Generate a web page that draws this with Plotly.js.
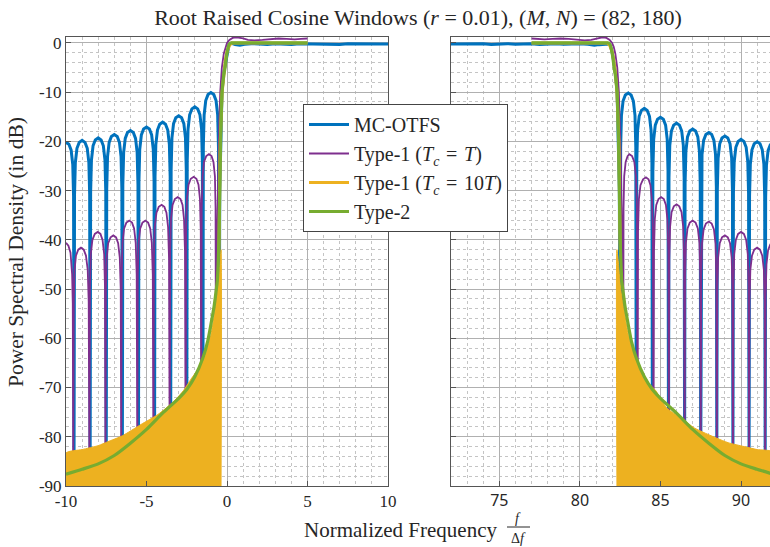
<!DOCTYPE html>
<html>
<head>
<meta charset="utf-8">
<script src="https://cdn.plot.ly/plotly-3.0.1.min.js"></script>
<style>html,body{margin:0;padding:0;background:#fff;}#chart{width:770px;height:547px;}</style>
</head>
<body>
<div id="chart"></div>
<script>
// ---------- tick labels ----------
const yTickVals = [-90,-80,-70,-60,-50,-40,-30,-20,-10,0];
const yTickText = ["-90","-80","-70","-60","-50","-40","-30","-20","-10","0"];
const xTickValsL = [-10,-5,0,5,10];
const xTickTextL = ["-10","-5","0","5","10"];
const xTickValsR = [75,80,85,90];
const xTickTextR = ["75","80","85","90"];

// ---------- MC-OTFS (blue) ----------
const mcLeftX = [
 -10,-9.82,-9.68,-9.58,-9.53,-9.5,
 -9.47,-9.42,-9.32,-9.18,-9,-8.82,-8.68,-8.58,-8.53,-8.5,
 -8.47,-8.42,-8.32,-8.18,-8,-7.82,-7.68,-7.58,-7.53,-7.5,
 -7.47,-7.42,-7.32,-7.18,-7,-6.82,-6.68,-6.58,-6.53,-6.5,
 -6.47,-6.42,-6.32,-6.18,-6,-5.82,-5.68,-5.58,-5.53,-5.5,
 -5.47,-5.42,-5.32,-5.18,-5,-4.82,-4.68,-4.58,-4.53,-4.5,
 -4.47,-4.42,-4.32,-4.18,-4,-3.82,-3.68,-3.58,-3.53,-3.5,
 -3.47,-3.42,-3.32,-3.18,-3,-2.82,-2.68,-2.58,-2.53,-2.5,
 -2.47,-2.42,-2.32,-2.18,-2,-1.82,-1.68,-1.58,-1.53,-1.5,
 -1.47,-1.42,-1.32,-1.18,-1,-0.82,-0.68,-0.58,-0.53,-0.5,
 -0.45,-0.4,-0.31,-0.2,-0.12,-0.05,0.05,0.12,0.2,0.3,0.5,0.8,1.1,1.5,2,2.5,3,3.5,4,4.5,5,5.5,6,6.5,7,7.5,8,8.5,9,9.5,10];
const mcLeftY = [
 -20.2,-20.6,-21.8,-24.7,-31.2,-85,
 -30.8,-24.3,-21.4,-20.2,-19.8,-20.2,-21.4,-24.3,-30.8,-85,
 -30.3,-23.8,-20.9,-19.7,-19.3,-19.7,-20.9,-23.8,-30.3,-85,
 -29.6,-23.1,-20.2,-19.0,-18.6,-19.0,-20.2,-23.1,-29.6,-85,
 -28.8,-22.3,-19.4,-18.2,-17.8,-18.2,-19.4,-22.3,-28.8,-85,
 -28.1,-21.6,-18.7,-17.5,-17.1,-17.5,-18.7,-21.6,-28.1,-85,
 -27.1,-20.6,-17.7,-16.5,-16.1,-16.5,-17.7,-20.6,-27.1,-85,
 -25.8,-19.3,-16.4,-15.2,-14.8,-15.2,-16.4,-19.3,-25.8,-85,
 -24.0,-17.5,-14.6,-13.4,-13.0,-13.4,-14.6,-17.5,-24.0,-85,
 -21.1,-14.6,-11.7,-10.5,-10.1,-10.5,-11.7,-14.6,-21.1,-85,
 -30,-20,-10,-6,-4.5,-2.8,-1.2,-0.5,-0.2,-0.1,-0.35,-0.45,-0.3,-0.15,-0.2,-0.3,-0.15,-0.2,-0.3,-0.15,-0.2,-0.25,-0.15,-0.2,-0.3,-0.15,-0.2,-0.25,-0.15,-0.2,-0.2];
const mcRightX = [
 72,72.5,73,73.5,74,74.5,75,75.5,76,76.5,77,77.5,78,78.5,79,79.5,80,80.5,80.9,81.2,81.5,81.7,81.8,81.88,81.95,82.05,82.12,82.2,82.31,82.4,82.45,82.5,
 82.53,82.58,82.68,82.82,83,83.18,83.32,83.42,83.47,83.5,
 83.53,83.58,83.68,83.82,84,84.18,84.32,84.42,84.47,84.5,
 84.53,84.58,84.68,84.82,85,85.18,85.32,85.42,85.47,85.5,
 85.53,85.58,85.68,85.82,86,86.18,86.32,86.42,86.47,86.5,
 86.53,86.58,86.68,86.82,87,87.18,87.32,87.42,87.47,87.5,
 87.53,87.58,87.68,87.82,88,88.18,88.32,88.42,88.47,88.5,
 88.53,88.58,88.68,88.82,89,89.18,89.32,89.42,89.47,89.5,
 89.53,89.58,89.68,89.82,90,90.18,90.32,90.42,90.47,90.5,
 90.53,90.58,90.68,90.82,91,91.18,91.32,91.42,91.47,91.5,
 91.53,91.58,91.68,91.82,92];
const mcRightY = [
 -0.2,-0.15,-0.25,-0.2,-0.15,-0.3,-0.2,-0.15,-0.25,-0.2,-0.15,-0.3,-0.2,-0.15,-0.25,-0.2,-0.15,-0.3,-0.45,-0.35,-0.2,-0.1,-0.2,-0.5,-1.2,-2.8,-4.5,-6,-10,-20,-30,-85,
 -21.2,-14.7,-11.8,-10.6,-10.2,-10.6,-11.8,-14.7,-21.2,-85,
 -24.3,-17.8,-14.9,-13.7,-13.3,-13.7,-14.9,-17.8,-24.3,-85,
 -26.1,-19.6,-16.7,-15.5,-15.1,-15.5,-16.7,-19.6,-26.1,-85,
 -27.3,-20.8,-17.9,-16.7,-16.3,-16.7,-17.9,-20.8,-27.3,-85,
 -28.5,-22.0,-19.1,-17.9,-17.5,-17.9,-19.1,-22.0,-28.5,-85,
 -29.2,-22.7,-19.8,-18.6,-18.2,-18.6,-19.8,-22.7,-29.2,-85,
 -29.9,-23.4,-20.5,-19.3,-18.9,-19.3,-20.5,-23.4,-29.9,-85,
 -30.6,-24.1,-21.2,-20.0,-19.6,-20.0,-21.2,-24.1,-30.6,-85,
 -31.1,-24.6,-21.7,-20.5,-20.1,-20.5,-21.7,-24.6,-31.1,-85,
 -31.3,-24.8,-21.9,-20.7,-20.3];

// ---------- Type-1 (Tc = T) (purple) ----------
const t1LeftX = [
 -10,-9.85,-9.72,-9.62,-9.58,-9.55,
 -9.52,-9.47,-9.38,-9.24,-9.07,-8.9,-8.76,-8.65,-8.59,-8.55,
 -8.51,-8.46,-8.36,-8.21,-8.03,-7.86,-7.73,-7.63,-7.58,-7.55,
 -7.52,-7.47,-7.38,-7.23,-7.06,-6.89,-6.76,-6.66,-6.6,-6.57,
 -6.54,-6.49,-6.39,-6.25,-6.07,-5.9,-5.77,-5.67,-5.61,-5.57,
 -5.54,-5.49,-5.39,-5.25,-5.07,-4.9,-4.77,-4.67,-4.61,-4.57,
 -4.54,-4.49,-4.38,-4.24,-4.06,-3.89,-3.76,-3.66,-3.6,-3.56,
 -3.53,-3.48,-3.38,-3.24,-3.06,-2.89,-2.76,-2.67,-2.61,-2.57,
 -2.54,-2.49,-2.39,-2.25,-2.07,-1.9,-1.77,-1.68,-1.63,-1.6,
 -1.57,-1.52,-1.43,-1.29,-1.12,-0.96,-0.84,-0.75,-0.71,-0.68,
 -0.62,-0.55,-0.48,-0.42,-0.32,-0.2,-0.1,0,0.15,0.35,0.6,0.8,1.0,1.3,1.7,2.2,2.7,3.2,3.7,4.2,4.6,5];
const t1LeftY = [
 -40.6,-41.2,-42.6,-47,-53,-85,
 -52.6,-46.1,-43.2,-42.0,-41.6,-42.0,-43.2,-46.1,-52.6,-85,
 -49.4,-42.9,-40.0,-38.8,-38.4,-38.8,-40.0,-42.9,-49.4,-85,
 -50.1,-43.6,-40.7,-39.5,-39.1,-39.5,-40.7,-43.6,-50.1,-85,
 -47.1,-40.6,-37.7,-36.5,-36.1,-36.5,-37.7,-40.6,-47.1,-85,
 -47.1,-40.6,-37.7,-36.5,-36.1,-36.5,-37.7,-40.6,-47.1,-85,
 -43.9,-37.4,-34.5,-33.3,-32.9,-33.3,-34.5,-37.4,-43.9,-85,
 -42.3,-35.8,-32.9,-31.7,-31.3,-31.7,-32.9,-35.8,-42.3,-85,
 -38.2,-31.7,-28.8,-27.6,-27.2,-27.6,-28.8,-31.7,-38.2,-85,
 -33.6,-27.1,-24.2,-23.0,-22.6,-23.0,-24.2,-27.1,-33.6,-85,
 -40,-25,-16,-10,-5,-2.2,-0.8,0,0.6,1.0,1.15,1.1,0.9,0.6,0.5,0.6,0.8,0.9,0.8,0.7,0.8,0.9];
const t1RightX = [
 77,77.4,77.8,78.3,78.8,79.3,79.8,80.3,80.7,81.0,81.2,81.4,81.65,81.85,82,82.1,82.2,82.32,82.42,82.48,82.55,82.62,82.68,
 82.71,82.75,82.84,82.96,83.07,83.24,83.38,83.48,83.54,83.58,
 83.61,83.66,83.76,83.92,84.1,84.26,84.38,84.47,84.53,84.57,
 84.6,84.65,84.74,84.88,85.04,85.21,85.34,85.43,85.49,85.52,
 85.55,85.6,85.69,85.83,86.0,86.17,86.31,86.41,86.47,86.5,
 86.53,86.58,86.68,86.82,87,87.18,87.32,87.42,87.47,87.5,
 87.53,87.58,87.68,87.82,88,88.18,88.32,88.42,88.47,88.5,
 88.53,88.58,88.68,88.82,89,89.18,89.32,89.42,89.47,89.5,
 89.53,89.58,89.68,89.82,90,90.18,90.32,90.42,90.47,90.5,
 90.53,90.58,90.68,90.82,91,91.18,91.32,91.42,91.47,91.5,
 91.53,91.58,91.68,91.82,92];
const t1RightY = [
 0.9,0.8,0.7,0.8,0.9,0.8,0.6,0.5,0.6,0.9,1.1,1.15,1.0,0.6,0,-0.8,-2.2,-5,-10,-16,-25,-40,-85,
 -33.6,-27.1,-24.2,-23.0,-22.6,-23.0,-24.2,-27.1,-33.6,-85,
 -38.3,-31.8,-28.9,-27.7,-27.3,-27.7,-28.9,-31.8,-38.3,-85,
 -42.3,-35.8,-32.9,-31.7,-31.3,-31.7,-32.9,-35.8,-42.3,-85,
 -43.8,-37.3,-34.4,-33.2,-32.8,-33.2,-34.4,-37.3,-43.8,-85,
 -47.1,-40.6,-37.7,-36.5,-36.1,-36.5,-37.7,-40.6,-47.1,-85,
 -47.3,-40.8,-37.9,-36.7,-36.3,-36.7,-37.9,-40.8,-47.3,-85,
 -50.1,-43.6,-40.7,-39.5,-39.1,-39.5,-40.7,-43.6,-50.1,-85,
 -49.4,-42.9,-40.0,-38.8,-38.4,-38.8,-40.0,-42.9,-49.4,-85,
 -52.6,-46.1,-43.2,-42.0,-41.6,-42.0,-43.2,-46.1,-52.6,-85,
 -51.5,-45.0,-42.1,-40.9,-40.5];

// ---------- Type-1 (Tc = 10T) (yellow): envelope of its dense lobes ----------
const t10LeftX = [-10,-9,-8,-7.4,-6.5,-5.34,-4.3,-3.3,-2.7,-2.24,-1.6,-1.3,-0.99,-0.8,-0.58,-0.45,-0.37];
const t10LeftY = [-83.3,-82.6,-81.8,-81,-79.8,-77.5,-75.5,-72.8,-70.6,-68.3,-65.3,-63,-59.1,-55.5,-50.3,-45,-42];
const t10RightX = [82.3,82.4,82.55,82.8,82.99,83.3,83.6,84.35,84.7,85.4,86.3,87.1,88.5,89.2,90.2,91,92];
const t10RightY = [-42,-45,-50.3,-55.5,-59.1,-62.6,-65.3,-69.4,-70.6,-74.2,-76.2,-78.2,-80.3,-81.2,-82,-82.6,-83.1];
const t10PassLX = [-0.5,-0.42,-0.3,-0.2,-0.1,0,0.15,0.3,5];
const t10PassLY = [-42,-20,-10,-6,-3.5,-1.8,-0.5,0,0];
const t10PassRX = [77,81.7,81.85,82,82.1,82.2,82.3,82.42,82.5];
const t10PassRY = [0,0,-0.5,-1.8,-3.5,-6,-10,-20,-42];
const floorDb = -90;

// ---------- Type-2 (green) ----------
const t2LeftX = [-10,-9,-8,-7,-6,-5,-4,-3,-2.5,-2,-1.5,-1.2,-1,-0.8,-0.7,-0.6,-0.55,-0.5,-0.45,-0.4,-0.31,-0.2,-0.12,-0.05,0.05,0.12,0.2,0.3,5];
const t2LeftY = [-87.6,-86.6,-85.5,-83.8,-81.3,-78.5,-75.2,-72.2,-70.4,-67.8,-64,-60.6,-57.2,-53.5,-51,-48.3,-45,-40,-30,-20,-10,-6.5,-5,-3,-1.2,-0.4,-0.05,0,0];
const t2RightX = [77,81.7,81.8,81.88,81.95,82.05,82.12,82.2,82.31,82.4,82.45,82.5,82.55,82.6,82.7,82.8,83,83.2,83.5,84,84.5,85,86,87,88,89,90,91,92];
const t2RightY = [0,0,-0.05,-0.4,-1.2,-3,-5,-6.5,-10,-20,-30,-40,-45,-48.3,-51,-53.5,-57.2,-60.6,-64,-67.8,-70.4,-72.2,-75.2,-78.5,-81.3,-83.8,-85.5,-86.6,-87.6];

// ---------- colours ----------
const cBlue = '#0072BD', cPurple = '#7E2F8E', cYellow = '#EDB120', cGreen = '#77AC30';

// close an envelope down to the axis floor so it can be filled
function closePoly(xs, ys) {
  return {x: [xs[0]].concat(xs, [xs[xs.length-1]]), y: [floorDb].concat(ys, [floorDb])};
}
const polyL = closePoly(t10LeftX, t10LeftY);
const polyR = closePoly(t10RightX, t10RightY);

const EQ = '\u2004=\u2004';
const traces = [
  {x: mcLeftX, y: mcLeftY, xaxis:'x', yaxis:'y', mode:'lines', name:'MC-OTFS', legendgroup:'a',
   line:{color:cBlue, width:3}},
  {x: mcRightX, y: mcRightY, xaxis:'x2', yaxis:'y2', mode:'lines', name:'MC-OTFS', legendgroup:'a', showlegend:false,
   line:{color:cBlue, width:3}},
  {x: t1LeftX, y: t1LeftY, xaxis:'x', yaxis:'y', mode:'lines', name:'Type-1 (<i>T</i><sub><i>c</i></sub>' + EQ + '<i>T</i>)', legendgroup:'b',
   line:{color:cPurple, width:1.8}},
  {x: t1RightX, y: t1RightY, xaxis:'x2', yaxis:'y2', mode:'lines', name:'t1r', legendgroup:'b', showlegend:false,
   line:{color:cPurple, width:1.8}},
  {x: t10PassLX, y: t10PassLY, xaxis:'x', yaxis:'y', mode:'lines', name:'Type-1 (<i>T</i><sub><i>c</i></sub>' + EQ + '10<i>T</i>)', legendgroup:'c',
   line:{color:cYellow, width:3}},
  {x: t10PassRX, y: t10PassRY, xaxis:'x2', yaxis:'y2', mode:'lines', name:'t10r', legendgroup:'c', showlegend:false,
   line:{color:cYellow, width:3}},
  {x: polyL.x, y: polyL.y, xaxis:'x', yaxis:'y', mode:'lines', fill:'toself', fillcolor:cYellow, showlegend:false,
   line:{color:cYellow, width:1, shape:'spline', smoothing:0.6}, hoverinfo:'skip'},
  {x: polyR.x, y: polyR.y, xaxis:'x2', yaxis:'y2', mode:'lines', fill:'toself', fillcolor:cYellow, showlegend:false,
   line:{color:cYellow, width:1, shape:'spline', smoothing:0.6}, hoverinfo:'skip'},
  {x: t2LeftX, y: t2LeftY, xaxis:'x', yaxis:'y', mode:'lines', name:'Type-2', legendgroup:'d',
   line:{color:cGreen, width:3.2, shape:'spline', smoothing:0.6}},
  {x: t2RightX, y: t2RightY, xaxis:'x2', yaxis:'y2', mode:'lines', name:'t2r', legendgroup:'d', showlegend:false,
   line:{color:cGreen, width:3.2, shape:'spline', smoothing:0.6}}
];

const serif = 'Liberation Serif, Times New Roman, serif';
const gridMajor = '#b0b0b0';
const gridMinor = '#c4c4c4';
const axLine = '#555555';
const txt = '#262626';

function xAxisBase() {
  return {
    showgrid:true, gridcolor:gridMajor, gridwidth:1,
    minor:{dtick:1, showgrid:true, gridcolor:gridMinor, griddash:'dot', gridwidth:1, ticks:''},
    ticks:'inside', ticklen:5, tickcolor:axLine,
    showline:true, mirror:true, linecolor:axLine, linewidth:1,
    zeroline:false, tickmode:'array', fixedrange:true
  };
}
function yAxisBase() {
  return {
    range:[-90, 1.2], showgrid:true, gridcolor:gridMajor, gridwidth:1,
    minor:{dtick:2, showgrid:true, gridcolor:gridMinor, griddash:'dot', gridwidth:1, ticks:''},
    ticks:'inside', ticklen:5, tickcolor:axLine,
    showline:true, mirror:true, linecolor:axLine, linewidth:1,
    zeroline:false, tickmode:'array', tickvals:yTickVals, ticktext:yTickText, fixedrange:true
  };
}

const layout = {
  width:770, height:547,
  margin:{l:66, r:0, t:37, b:61, pad:0},
  paper_bgcolor:'#ffffff', plot_bgcolor:'#ffffff',
  showlegend:true,
  title:{text:'Root Raised Cosine Windows (<i>r</i> = 0.01), (<i>M</i>, <i>N</i>) = (82, 180)',
         x:418/770, xanchor:'center', xref:'container', y:1-17/547, yanchor:'middle', yref:'container',
         font:{family:serif, size:22, color:txt}},
  xaxis: Object.assign(xAxisBase(), {domain:[0, 322/704], range:[-10,10], anchor:'y',
         tickvals:xTickValsL, ticktext:xTickTextL, tickfont:{family:serif, size:17, color:txt}}),
  xaxis2: Object.assign(xAxisBase(), {domain:[385/704, 1], range:[72,91.8], anchor:'y2',
         tickvals:xTickValsR, ticktext:xTickTextR, tickfont:{family:'Noto Sans, Open Sans, sans-serif', size:16, color:txt}}),
  yaxis: Object.assign(yAxisBase(), {anchor:'x', tickfont:{family:serif, size:17, color:txt}}),
  yaxis2: Object.assign(yAxisBase(), {anchor:'x2', showticklabels:false, mirror:false}),
  legend:{x:(303-66)/704, y:1-(104-37)/449, xanchor:'left', yanchor:'top', xref:'paper', yref:'paper',
          bgcolor:'#ffffff', bordercolor:'#444444', borderwidth:1,
          font:{family:serif, size:20, color:txt}, tracegroupgap:0, itemwidth:40},
  annotations:[
    {text:'Power Spectral Density (in dB)', textangle:-90, xref:'paper', yref:'paper',
     x:(16-66)/704, y:(486-252)/449, xanchor:'center', yanchor:'middle', showarrow:false,
     font:{family:serif, size:21.5, color:txt}},
    {text:'Normalized Frequency', xref:'paper', yref:'paper', x:(401-66)/704, y:(486-530)/449,
     xanchor:'center', yanchor:'middle', showarrow:false, font:{family:serif, size:21, color:txt}},
    {text:'<i>f</i>', xref:'paper', yref:'paper', x:(518-66)/704, y:(486-518)/449,
     xanchor:'center', yanchor:'middle', showarrow:false, font:{family:serif, size:14, color:txt}},
    {text:'Δ<i>f</i>', xref:'paper', yref:'paper', x:(518-66)/704, y:(486-538)/449,
     xanchor:'center', yanchor:'middle', showarrow:false, font:{family:serif, size:14, color:txt}}
  ],
  shapes:[
    {type:'line', xref:'paper', yref:'paper', x0:(507-66)/704, x1:(530-66)/704, y0:(486-527)/449, y1:(486-527)/449,
     line:{color:txt, width:1}}
  ]
};

Plotly.newPlot('chart', traces, layout, {displayModeBar:false, staticPlot:true});
</script>
</body>
</html>
